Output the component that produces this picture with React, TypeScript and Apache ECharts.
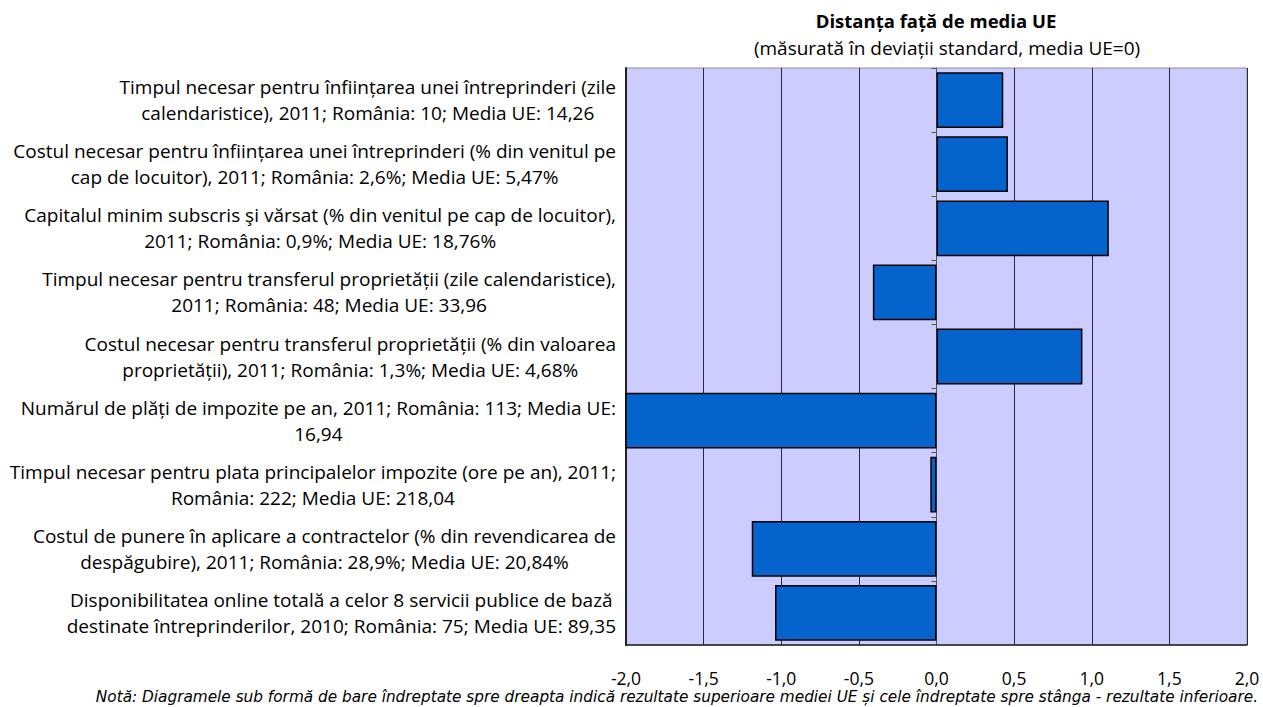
import { useEffect, useRef } from 'react';
import * as echarts from 'echarts';

const categories: string[] = [
  'Timpul necesar pentru înființarea unei întreprinderi (zile\ncalendaristice), 2011; România: 10; Media UE: 14,26',
  'Costul necesar pentru înființarea unei întreprinderi (% din venitul pe\ncap de locuitor), 2011; România: 2,6%; Media UE: 5,47%',
  'Capitalul minim subscris şi vărsat (% din venitul pe cap de locuitor),\n2011; România: 0,9%; Media UE: 18,76%',
  'Timpul necesar pentru transferul proprietății (zile calendaristice),\n2011; România: 48; Media UE: 33,96',
  'Costul necesar pentru transferul proprietății (% din valoarea\nproprietății), 2011; România: 1,3%; Media UE: 4,68%',
  'Numărul de plăți de impozite pe an, 2011; România: 113; Media UE:\n16,94',
  'Timpul necesar pentru plata principalelor impozite (ore pe an), 2011;\nRomânia: 222; Media UE: 218,04',
  'Costul de punere în aplicare a contractelor (% din revendicarea de\ndespăgubire), 2011; România: 28,9%; Media UE: 20,84%',
  'Disponibilitatea online totală a celor 8 servicii publice de bază\ndestinate întreprinderilor, 2010; România: 75; Media UE: 89,35',
];

const distances: number[] = [0.43, 0.46, 1.11, -0.41, 0.94, -2.05, -0.04, -1.19, -1.04];

const xMin = -2;
const xMax = 2;
const xStep = 0.5;

const titleText = 'Distanța față de media UE';
const subtitleText = '(măsurată în deviații standard, media UE=0)';
const noteText =
  'Notă: Diagramele sub formă de bare îndreptate spre dreapta indică rezultate superioare mediei UE și cele îndreptate spre stânga - rezultate inferioare.';

const FONT = '"Open Sans", "Noto Sans", sans-serif';

export default function App() {
  const ref = useRef<HTMLDivElement>(null);

  useEffect(() => {
    document.body.style.margin = '0';
    if (!ref.current) return;
    const chart = echarts.init(ref.current, undefined, { renderer: 'svg' });
    chart.setOption({
      animation: false,
      backgroundColor: '#ffffff',
      grid: {
        left: 626,
        right: 16,
        top: 68,
        bottom: 62,
        show: true,
        backgroundColor: '#CCCCFF',
        borderColor: '#8c8c8c',
        borderWidth: 1,
      },
      xAxis: {
        type: 'value',
        min: xMin,
        max: xMax,
        interval: xStep,
        axisLine: { show: true, onZero: false, lineStyle: { color: '#222', width: 1.5 } },
        axisTick: { show: false },
        splitLine: { show: true, lineStyle: { color: '#2a2a3a', width: 1 } },
        axisLabel: {
          color: '#000',
          fontFamily: FONT,
          fontSize: 17.5,
          margin: 24,
          formatter: (v: number) => v.toFixed(1).replace('.', ','),
        },
      },
      yAxis: [
        {
          type: 'category',
          data: categories,
          inverse: true,
          position: 'left',
          axisLine: { show: true, onZero: false, lineStyle: { color: '#222', width: 2 } },
          axisTick: { show: false },
          splitLine: { show: false },
          axisLabel: {
            margin: 10,
            align: 'right',
            color: '#000',
            fontFamily: FONT,
            fontSize: 19,
            lineHeight: 26,
            formatter: (v: string) =>
              v
                .split('\n')
                .map((l) => '{c|' + l + '}')
                .join('\n'),
            rich: {
              c: {
                align: 'center',
                color: '#000',
                fontFamily: FONT,
                fontSize: 19,
                lineHeight: 26,
              },
            },
          },
        },
        {
          type: 'category',
          data: categories,
          inverse: true,
          position: 'left',
          axisLine: { show: true, onZero: true, lineStyle: { color: '#555', width: 1 } },
          axisTick: { show: true, length: 5, lineStyle: { color: '#555' } },
          axisLabel: { show: false },
          splitLine: { show: false },
        },
      ],
      series: [
        {
          type: 'bar',
          data: distances,
          yAxisIndex: 0,
          barCategoryGap: '13%',
          itemStyle: { color: '#0563CC', borderColor: '#000', borderWidth: 1.5 },
          z: 3,
        },
      ],
      graphic: [
        {
          type: 'text',
          x: 936,
          y: 20,
          style: {
            text: titleText,
            fontFamily: FONT,
            fontWeight: 'bold',
            fontSize: 18.5,
            fill: '#000',
            align: 'center',
            verticalAlign: 'middle',
          },
        },
        {
          type: 'text',
          x: 947,
          y: 48,
          style: {
            text: subtitleText,
            fontFamily: FONT,
            fontSize: 19,
            fill: '#000',
            align: 'center',
            verticalAlign: 'middle',
          },
        },
        {
          type: 'text',
          x: 1258,
          y: 697,
          style: {
            text: noteText,
            fontFamily: '"DejaVu Sans", sans-serif',
            fontStyle: 'italic',
            fontSize: 15.3,
            fill: '#000',
            align: 'right',
            verticalAlign: 'middle',
          },
        },
      ],
    });
    return () => chart.dispose();
  }, []);

  return <div ref={ref} style={{ width: 1263, height: 707 }} />;
}
